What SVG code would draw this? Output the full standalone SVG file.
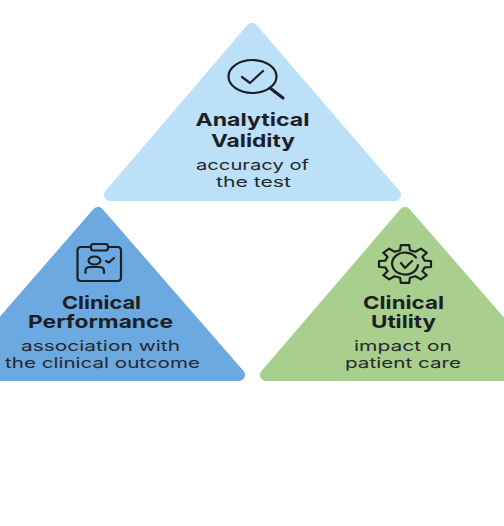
<svg xmlns="http://www.w3.org/2000/svg" width="504" height="526" viewBox="0 0 504 526">
<style>
.tri{stroke-width:12;stroke-linejoin:round}
.t{font-family:"Inter","Liberation Sans",sans-serif;fill:#1c2024;text-anchor:middle}
.h{font-size:18px;font-weight:700}
.s{font-size:14.500px;font-weight:400;fill:#26292c}
.i{fill:none;stroke:#1c2024;stroke-width:2.200;stroke-linecap:round;stroke-linejoin:round}
.b{stroke-width:3}
</style>
<rect width="504" height="526" fill="#fff"/>
<g id="analytical-validity">
<polygon class="tri" points="252,29 395,195 110,195" fill="#BBE0F8" stroke="#BBE0F8"/>
<ellipse class="i" cx="252.500" cy="76.500" rx="24" ry="16.500"/>
<path class="i b" d="M270 88L283 98"/>
<path class="i" d="M242 77L250 83L263 71"/>
<text class="t h" x="252.500" y="126" textLength="114" lengthAdjust="spacingAndGlyphs">Analytical</text>
<text class="t h" x="253" y="147" textLength="84" lengthAdjust="spacingAndGlyphs">Validity</text>
<text class="t s" x="252.500" y="170" textLength="113" lengthAdjust="spacingAndGlyphs">accuracy of</text>
<text class="t s" x="253.500" y="187" textLength="75" lengthAdjust="spacingAndGlyphs">the test</text>
</g>
<g id="clinical-performance">
<polygon class="tri" points="98,213 239,375 -43,375" fill="#6BA9E0" stroke="#6BA9E0"/>
<path class="i" d="M91 247H81Q77.500 247 77.500 250.500V277.500Q77.500 281 81 281H117.500Q121 281 121 277.500V250.500Q121 247 117.500 247H108"/>
<rect class="i" x="91" y="244" width="17" height="6.500" rx="2.500"/>
<ellipse class="i" cx="94.500" cy="260.500" rx="6" ry="4"/>
<path class="i" d="M85.500 273V271Q85.500 267 90 267H99Q104 267 104 271V273M106 261L109 262.500L114 258"/>
<text class="t h" x="101.500" y="309" textLength="79" lengthAdjust="spacingAndGlyphs">Clinical</text>
<text class="t h" x="100.500" y="328" textLength="145" lengthAdjust="spacingAndGlyphs">Performance</text>
<text class="t s" x="100.500" y="351" textLength="159" lengthAdjust="spacingAndGlyphs">association with</text>
<text class="t s" x="102.500" y="368" textLength="195" lengthAdjust="spacingAndGlyphs">the clinical outcome</text>
</g>
<g id="clinical-utility">
<polygon class="tri" points="405,213 546,375 266,375" fill="#A9CF8F" stroke="#A9CF8F"/>
<path class="i" d="M400.100 250.200L400.800 245.200H409.200L409.900 250.200L415.400 251.800L420.900 248.600L426.800 252.800L422.400 256.700L424.700 260.600L431 261L431 267L424.700 267.400L422.400 271.300L426.800 275.200L420.900 279.400L415.400 276.200L409.900 277.800L409.200 282.800H400.800L400.100 277.800L394.600 276.200L389.100 279.400L383.200 275.200L387.600 271.300L385.300 267.400L379 267V261L385.300 260.600L387.600 256.700L383.200 252.800L389.100 248.600L394.600 251.800Z"/>
<path class="i" d="M416 257.500A13 11 0 1 0 418 265M401 263L405 268L412 261"/>
<text class="t h" x="403.500" y="309" textLength="81" lengthAdjust="spacingAndGlyphs">Clinical</text>
<text class="t h" x="403.500" y="328" textLength="65" lengthAdjust="spacingAndGlyphs">Utility</text>
<text class="t s" x="403" y="351" textLength="98" lengthAdjust="spacingAndGlyphs">impact on</text>
<text class="t s" x="403" y="368" textLength="116" lengthAdjust="spacingAndGlyphs">patient care</text>
</g>
<g id="connectors"/>
</svg>
